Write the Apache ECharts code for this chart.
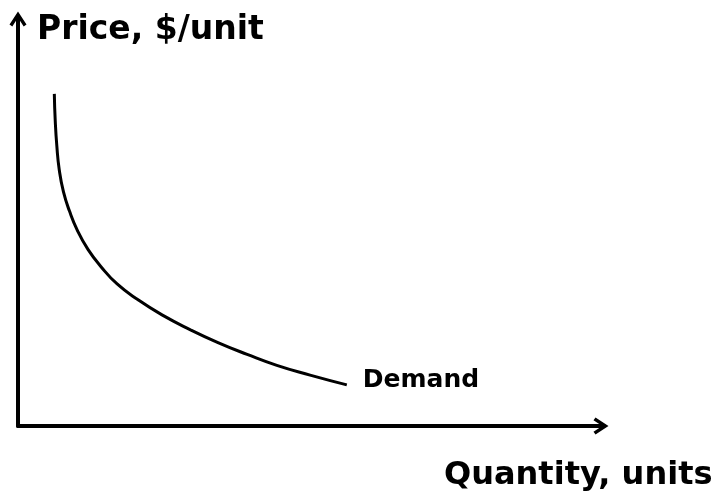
<!DOCTYPE html>
<html>
<head>
<meta charset="utf-8">
<script src="https://cdn.jsdelivr.net/npm/echarts@6/dist/echarts.min.js"></script>
<style>
  html, body { margin: 0; padding: 0; background: #fff; }
  #chart { width: 714px; height: 502px; }
</style>
</head>
<body>
<div id="chart"></div>
<script>
// demand curve (quantity 0-100, price 0-100)
const quantity = [6.23, 6.38, 6.66, 7.08, 7.8, 8.83, 10.2, 12.0, 14.2, 17.0,
  20.6, 24.7, 29.5, 34.3, 39.3, 44.4, 50.1, 56.4];
const price = [81.6, 75.2, 68.8, 62.9, 57.5, 52.8, 48.0, 43.4, 39.2, 34.9,
  31.0, 27.3, 23.7, 20.5, 17.6, 14.9, 12.5, 10.1];
const yTitle = "Price, $/unit";
const xTitle = "Quantity, units";
const curveName = "Demand";

const font = "'DejaVu Sans', Verdana, sans-serif";
// open arrowhead (chevron with shaft), pointing up
const arrowPath = "path://M8.5,0L17,13L14.2,15L10.5,9.3L10.5,15L6.5,15L6.5,9.3L2.8,15L0,13Z";

const axisCommon = {
  type: "value",
  min: 0,
  max: 100,
  axisLine: {
    show: true,
    symbol: ["none", arrowPath],
    symbolSize: [17, 15],
    lineStyle: { color: "#000", width: 4 },
  },
  axisTick: { show: false },
  axisLabel: { show: false },
  splitLine: { show: false },
};

const chart = echarts.init(document.getElementById("chart"));
chart.setOption({
  animation: false,
  backgroundColor: "#fff",
  title: [
    {
      text: yTitle,
      left: 37,
      top: 14,
      padding: 0,
      textStyle: { fontFamily: font, fontWeight: "bold", fontSize: 33, color: "#000" },
    },
    {
      text: xTitle,
      left: 444,
      top: 460,
      padding: 0,
      textStyle: { fontFamily: font, fontWeight: "bold", fontSize: 32, color: "#000" },
    },
  ],
  grid: { left: 18, right: 113, top: 19, bottom: 76 },
  xAxis: axisCommon,
  yAxis: axisCommon,
  series: [
    {
      name: curveName,
      type: "line",
      smooth: 0.5,
      showSymbol: false,
      data: quantity.map((q, i) => [q, price[i]]),
      lineStyle: { color: "#000", width: 3 },
      endLabel: {
        show: true,
        formatter: curveName,
        position: "right",
        distance: 16,
        offset: [0, -4],
        fontFamily: font,
        fontWeight: "bold",
        fontSize: 25,
        color: "#000",
      },
    },
  ],
});
</script>
</body>
</html>
